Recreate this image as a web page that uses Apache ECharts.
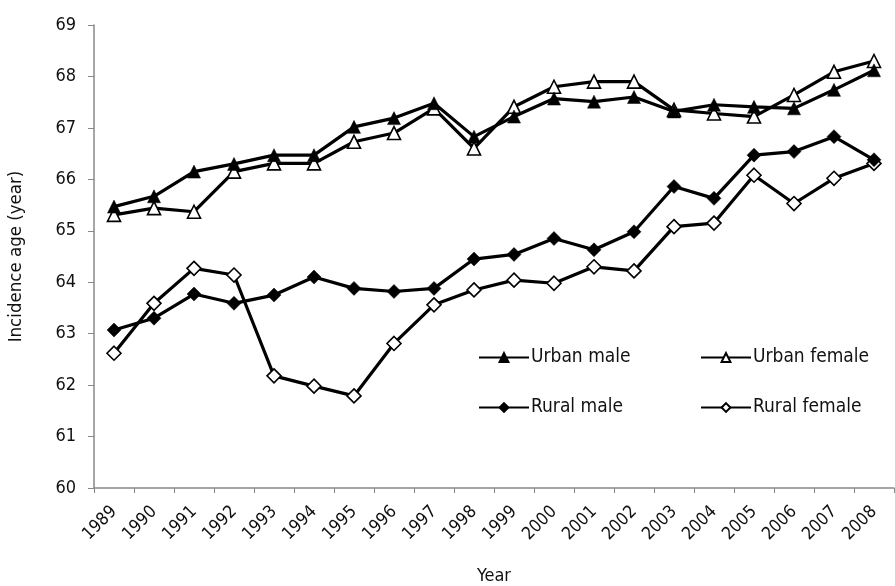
<!DOCTYPE html>
<html><head><meta charset="utf-8">
<script src="https://cdn.jsdelivr.net/npm/echarts@6/dist/echarts.min.js"></script>
<style>html,body{margin:0;padding:0;background:#fff}#c{width:895px;height:586px}</style>
</head><body><div id="c"></div>
<script>
const years = ['1989','1990','1991','1992','1993','1994','1995','1996','1997','1998','1999','2000','2001','2002','2003','2004','2005','2006','2007','2008'];
const urbanMale   = [65.47,65.67,66.15,66.30,66.47,66.47,67.02,67.19,67.48,66.83,67.22,67.57,67.51,67.60,67.32,67.45,67.41,67.38,67.74,68.12];
const urbanFemale = [65.31,65.44,65.37,66.15,66.31,66.31,66.73,66.90,67.38,66.60,67.41,67.80,67.90,67.90,67.35,67.28,67.22,67.64,68.09,68.30];
const ruralMale   = [63.07,63.30,63.77,63.59,63.75,64.10,63.88,63.82,63.88,64.45,64.54,64.85,64.63,64.98,65.86,65.63,66.47,66.54,66.83,66.38];
const ruralFemale = [62.62,63.59,64.27,64.14,62.18,61.98,61.79,62.81,63.56,63.85,64.04,63.98,64.30,64.22,65.08,65.15,66.08,65.53,66.02,66.31];
const seriesNames = ['Urban male','Urban female','Rural male','Rural female'];

const FONT = "'Liberation Sans Narrow','DejaVu Sans Condensed','Open Sans',sans-serif";
const chart = echarts.init(document.getElementById('c'));
function mk(name, data, symbol, filled, size){
  return {name, type:'line', data, symbol, symbolSize:size, showSymbol:true,
    lineStyle:{color:'#000', width:3.2},
    itemStyle:{color: filled ? '#000' : '#fff', borderColor:'#000', borderWidth: filled?0.5:1.6},
    emphasis:{disabled:true}, animation:false, z: filled?3:2};
}
function lg(name, left, top){
  return {data:[name], left, top, itemWidth:50, itemHeight:11, itemGap:0, padding:0,
    textStyle:{fontFamily:FONT, fontSize:19, color:'#111', padding:[0,0,0,-3]}};
}
chart.setOption({
  animation:false,
  grid:{left:94, right:1, top:25, bottom:98, containLabel:false, outerBoundsMode:'none'},
  legend:[lg(seriesNames[0],478,348), lg(seriesNames[1],700,348), lg(seriesNames[2],478,398), lg(seriesNames[3],700,398)],
  xAxis:{type:'category', data:years, boundaryGap:true,
    name:'Year', nameLocation:'middle', nameGap:79,
    nameTextStyle:{fontFamily:FONT, fontSize:18, color:'#111'},
    axisLine:{lineStyle:{color:'#888', width:1.5}},
    axisTick:{show:true, lineStyle:{color:'#888'}, length:5},
    axisLabel:{rotate:45, fontFamily:FONT, fontSize:17.5, color:'#111', margin:21, interval:0, hideOverlap:false},
    splitLine:{show:false}},
  yAxis:{type:'value', min:60, max:69, interval:1,
    name:'Incidence age (year)', nameLocation:'middle', nameGap:68, nameRotate:90,
    nameTextStyle:{fontFamily:FONT, fontSize:18.5, color:'#111'},
    axisLine:{show:true, lineStyle:{color:'#888', width:1.5}},
    axisTick:{show:true, inside:false, length:6, lineStyle:{color:'#888'}},
    axisLabel:{fontFamily:FONT, fontSize:18, color:'#111', margin:18},
    splitLine:{show:false}},
  series:[
    mk(seriesNames[0], urbanMale, 'triangle', true, 13),
    mk(seriesNames[1], urbanFemale, 'triangle', false, 13),
    mk(seriesNames[2], ruralMale, 'diamond', true, 14),
    mk(seriesNames[3], ruralFemale, 'diamond', false, 14)
  ]
});
</script></body></html>
